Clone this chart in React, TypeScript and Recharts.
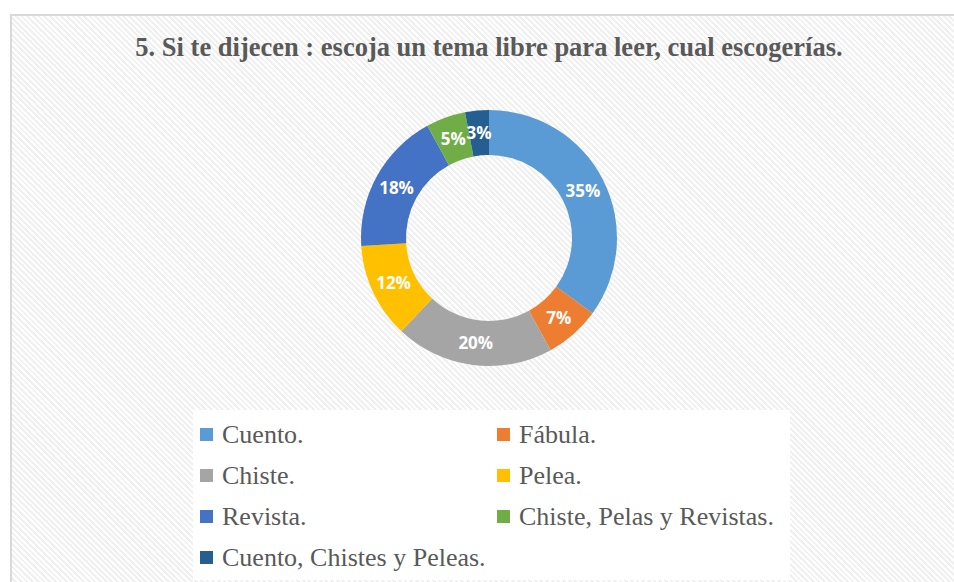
import React from 'react';
import { PieChart, Pie, Cell, Legend } from 'recharts';

const categories = [
  'Cuento.',
  'Fábula.',
  'Chiste.',
  'Pelea.',
  'Revista.',
  'Chiste, Pelas y Revistas.',
  'Cuento, Chistes y Peleas.',
];
const percents = [35, 7, 20, 12, 18, 5, 3];
const colors = ['#5B9BD5', '#ED7D31', '#A5A5A5', '#FFC000', '#4472C4', '#70AD47', '#255E91'];

const title = '5. Si te dijecen : escoja un tema libre para leer, cual escogerías.';

const data = categories.map((name, i) => ({ name, value: percents[i], color: colors[i] }));

const RADIAN = Math.PI / 180;

const renderLabel = ({ cx, cy, midAngle, innerRadius, outerRadius, value }: any) => {
  const r = (innerRadius + outerRadius) / 2;
  const x = cx + r * Math.cos(-midAngle * RADIAN);
  const y = cy + r * Math.sin(-midAngle * RADIAN);
  return (
    <text
      x={x}
      y={y}
      fill="#fff"
      textAnchor="middle"
      dominantBaseline="central"
      style={{ fontFamily: '"Open Sans", sans-serif', fontWeight: 700, fontSize: 17 }}
    >
      {`${value}%`}
    </text>
  );
};

const LegendContent = () => (
  <div
    style={{
      background: '#fff',
      width: 597,
      height: 170,
      boxSizing: 'border-box',
      padding: '4px 0 0 7px',
      display: 'grid',
      gridTemplateColumns: '297px 300px',
      gridAutoRows: '41px',
      fontFamily: '"Liberation Serif", "Times New Roman", serif',
      fontSize: 26,
      color: '#595959',
    }}
  >
    {data.map((d) => (
      <div key={d.name} style={{ display: 'flex', alignItems: 'center', whiteSpace: 'nowrap' }}>
        <span style={{ width: 13, height: 13, background: d.color, marginRight: 9, display: 'inline-block', flexShrink: 0 }} />
        <span>{d.name}</span>
      </div>
    ))}
  </div>
);

export default function App() {
  return (
    <div style={{ position: 'absolute', left: 0, top: 0, width: 954, height: 582, background: '#fff', overflow: 'hidden' }}>
      <div
        style={{
          position: 'absolute',
          left: 10,
          top: 14,
          width: 944,
          height: 568,
          borderTop: '2px solid #d9d9d9',
          borderLeft: '2px solid #d9d9d9',
          boxSizing: 'border-box',
          background: 'repeating-linear-gradient(45deg, #ffffff 0px, #ffffff 2px, #f0f0f0 2px, #f0f0f0 4px)',
        }}
      >
        <div
          style={{
            position: 'absolute',
            left: 0,
            top: 16,
            width: 954,
            textAlign: 'center',
            fontFamily: '"Liberation Serif", "Times New Roman", serif',
            fontWeight: 700,
            fontSize: 26.5,
            color: '#595959',
            whiteSpace: 'nowrap',
          }}
        >
          {title}
        </div>
        <div style={{ position: 'absolute', left: -2, top: -2 }}>
          <PieChart width={944} height={568} margin={{ top: 0, right: 0, bottom: 0, left: 0 }}>
            <Pie
              data={data}
              dataKey="value"
              nameKey="name"
              cx={479}
              cy={224}
              startAngle={90}
              endAngle={-270}
              innerRadius={83}
              outerRadius={128}
              stroke="none"
              labelLine={false}
              label={renderLabel}
              isAnimationActive={false}
            >
              {data.map((d) => (
                <Cell key={d.name} fill={d.color} />
              ))}
            </Pie>
            <Legend
              content={<LegendContent />}
              wrapperStyle={{ left: 183, top: 396, width: 597, height: 170 }}
            />
          </PieChart>
        </div>
      </div>
    </div>
  );
}
